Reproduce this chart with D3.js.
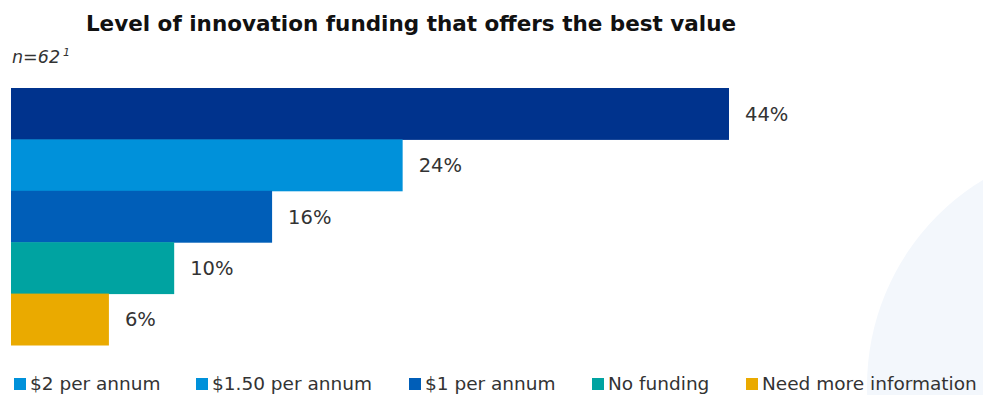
<!DOCTYPE html>
<html>
<head>
<meta charset="utf-8">
<script src="https://cdn.jsdelivr.net/npm/d3@7/dist/d3.min.js"></script>
<style>
  html, body { margin: 0; padding: 0; background: #fff; }
  svg { display: block; font-family: "DejaVu Sans", "Liberation Sans", Arial, sans-serif; }
</style>
</head>
<body>
<svg id="chart" width="983" height="395"></svg>
<script>
// Survey answers: level of innovation funding that offers the best value
const categories = ["$2 per annum", "$1.50 per annum", "$1 per annum", "No funding", "Need more information"];
const values = [44, 24, 16, 10, 6];
const barColors = ["#00338d", "#0091da", "#005eb8", "#00a3a1", "#eaaa00"];
const legendColors = ["#0091da", "#0091da", "#005eb8", "#00a3a1", "#eaaa00"];
const legendX = [14, 196, 409, 592, 746];

const svg = d3.select("#chart");

// soft decorative disc in the lower right corner
svg.append("circle")
  .attr("cx", 1108).attr("cy", 386).attr("r", 241)
  .attr("fill", "#f3f7fc");

svg.append("text")
  .attr("x", 411).attr("y", 31)
  .attr("text-anchor", "middle")
  .attr("font-size", 21.5).attr("font-weight", "bold")
  .attr("fill", "#111")
  .text("Level of innovation funding that offers the best value");

const n = svg.append("text")
  .attr("x", 12).attr("y", 63)
  .attr("font-size", 17.5).attr("font-style", "italic")
  .attr("fill", "#333")
  .text("n=62");
n.append("tspan").attr("dx", 3).attr("dy", -7).attr("font-size", 11).text("1");

const x = d3.scaleLinear().domain([0, 44]).range([11, 729]);
const y = d3.scaleBand().domain(categories).range([88, 345]).padding(0);

svg.append("g").selectAll("rect")
  .data(categories)
  .join("rect")
  .attr("x", x(0))
  .attr("y", d => y(d))
  .attr("width", (d, i) => x(values[i]) - x(0))
  .attr("height", y.bandwidth() + 0.5)
  .attr("fill", (d, i) => barColors[i]);

svg.append("g").selectAll("text")
  .data(categories)
  .join("text")
  .attr("x", (d, i) => x(values[i]) + 16)
  .attr("y", d => y(d) + y.bandwidth() / 2)
  .attr("dy", "0.36em")
  .attr("font-size", 19.5)
  .attr("fill", "#333")
  .text((d, i) => values[i] + "%");

const lg = svg.append("g").selectAll("g")
  .data(categories)
  .join("g")
  .attr("transform", (d, i) => `translate(${legendX[i]},0)`);
lg.append("rect")
  .attr("x", 0).attr("y", 378)
  .attr("width", 12).attr("height", 12)
  .attr("fill", (d, i) => legendColors[i]);
lg.append("text")
  .attr("x", 16).attr("y", 390)
  .attr("font-size", 18.5)
  .attr("fill", "#333")
  .text(d => d);
</script>
</body>
</html>
